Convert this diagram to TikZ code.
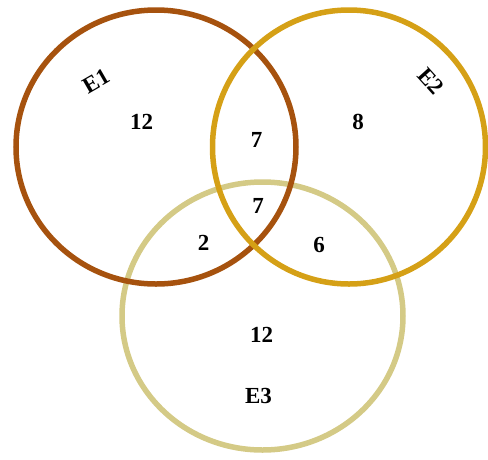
\documentclass[tikz,border=0pt]{standalone}
\usepackage{fontspec}
\setmainfont{Liberation Serif}
\usepackage{xcolor}
\usetikzlibrary{positioning}

\definecolor{eonecol}{RGB}{166,82,14}
\definecolor{etwocol}{RGB}{213,160,22}
\definecolor{ethreecol}{RGB}{212,202,134}

\begin{document}
\begin{tikzpicture}[x=1pt,y=-1pt,
  ring/.style={line width=5.5pt},
  lbl/.style={inner sep=0pt,font=\fontsize{23}{26}\selectfont\bfseries}]
  \useasboundingbox (0,0) rectangle (488,459);
  % circle centres
  \coordinate (c1) at (156,147);
  \coordinate (c2) at (349,147);
  \coordinate (c3) at (262.5,316);
  \draw[ring,ethreecol] (c3) ellipse [x radius=140.5, y radius=134];
  \draw[ring,eonecol] (c1) ellipse [x radius=140, y radius=137];
  \draw[ring,etwocol] (c2) ellipse [x radius=136.5, y radius=137];
  % set names
  \node[lbl,rotate=30] (e1) at (96,81) {E1};
  \node[lbl,rotate=-48] (e2) at (431,81) {E2};
  \node[lbl] (e3) at (258.5,395.5) {E3};
  % region counts
  \node[lbl] (only1) at (141.5,121.5) {12};
  \node[lbl] (only2) at (358,122) {8};
  \node[lbl] (only3) at (261.5,335) {12};
  \node[lbl] (r12) at (256.5,140) {7};
  \node[lbl] (r123) at (258,206) {7};
  \node[lbl] (r13) at (203.5,242.5) {2};
  \node[lbl] (r23) at (319,244.5) {6};
\end{tikzpicture}
\end{document}
